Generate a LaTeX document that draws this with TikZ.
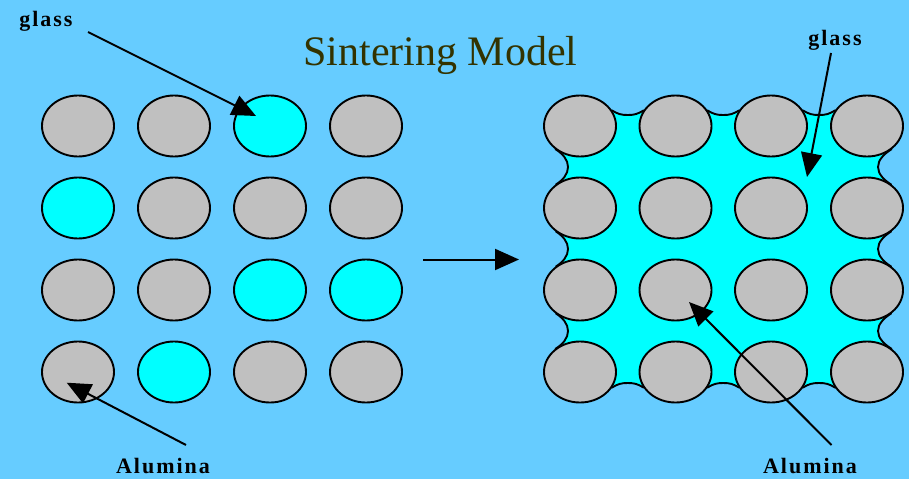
\documentclass[tikz,border=0pt]{standalone}
\usepackage{fontspec}
\setmainfont{Liberation Serif}
\newfontfamily\lblfont[LetterSpace=9]{Liberation Serif}
\usetikzlibrary{shapes.geometric,arrows.meta}
\definecolor{bgblue}{HTML}{66CCFF}
\definecolor{glasscyan}{HTML}{00FFFF}
\definecolor{alugray}{HTML}{C0C0C0}
\definecolor{titlecol}{HTML}{333300}
\begin{document}
\begin{tikzpicture}[x=1pt,y=-1pt,
  grain/.style={ellipse, draw=black, line width=1.9pt, minimum width=72pt, minimum height=61pt, inner sep=0pt},
  alu/.style={grain, fill=alugray},
  gla/.style={grain, fill=glasscyan},
  lbl/.style={font=\lblfont\bfseries\fontsize{22}{22}\selectfont, anchor=base, inner sep=0pt},
  arr/.style={line width=2pt, -{Triangle[length=24pt,width=21pt]}}]
\fill[bgblue] (0,0) rectangle (909,479);
\useasboundingbox (0,0) rectangle (909,479);

% title and labels
\node[anchor=base, inner sep=0pt, text=titlecol, font=\fontsize{42}{42}\selectfont] (title) at (440.5,65) {Sintering Model};
\node[lbl] (glassL) at (46,26.5) {glass};
\node[lbl] (aluL) at (163,473.5) {Alumina};
\node[lbl] (glassR) at (835,45) {glass};
\node[lbl] (aluR) at (810,473.5) {Alumina};

% left grid (before sintering)
\node[alu] (L11) at (78,126) {};
\node[alu] (L12) at (174,126) {};
\node[gla] (L13) at (270,126) {};
\node[alu] (L14) at (366,126) {};
\node[gla] (L21) at (78,208) {};
\node[alu] (L22) at (174,208) {};
\node[alu] (L23) at (270,208) {};
\node[alu] (L24) at (366,208) {};
\node[alu] (L31) at (78,290) {};
\node[alu] (L32) at (174,290) {};
\node[gla] (L33) at (270,290) {};
\node[gla] (L34) at (366,290) {};
\node[alu] (L41) at (78,372) {};
\node[gla] (L42) at (174,372) {};
\node[alu] (L43) at (270,372) {};
\node[alu] (L44) at (366,372) {};

% glass matrix (after sintering)
\draw[fill=glasscyan, line width=1.9pt]
  (612,110.5) .. controls (618,114) and (621,115) .. (627.75,115) .. controls (634.5,115) and (637.5,114) .. (643.5,110.5)
  -- (707.5,110.5) .. controls (713.5,114) and (716.5,115) .. (723.25,115) .. controls (730,115) and (733,114) .. (739,110.5)
  -- (803,110.5) .. controls (809,114) and (812,115) .. (819,115) .. controls (826,115) and (829,114) .. (835,110.5)
  -- (890.8,149.7) .. controls (884,154) and (878,160) .. (878,167) .. controls (878,174) and (884,180) .. (890.8,184.3)
  -- (890.8,231.7) .. controls (884,236) and (878,242) .. (878,249) .. controls (878,256) and (884,262) .. (890.8,266.3)
  -- (890.8,313.7) .. controls (884,318) and (878,324) .. (878,331) .. controls (878,338) and (884,344) .. (890.8,348.3)
  -- (835,387.5) .. controls (829,384) and (826,383) .. (819,383) .. controls (812,383) and (809,384) .. (803,387.5)
  -- (739,387.5) .. controls (733,384) and (730,383) .. (723.25,383) .. controls (716.5,383) and (713.5,384) .. (707.5,387.5)
  -- (643.5,387.5) .. controls (637.5,384) and (634.5,383) .. (627.75,383) .. controls (621,383) and (618,384) .. (612,387.5)
  -- (556.2,348.3) .. controls (563,344) and (568,338) .. (568,331) .. controls (568,324) and (563,318) .. (556.2,313.7)
  -- (556.2,266.3) .. controls (563,262) and (568,256) .. (568,249) .. controls (568,242) and (563,236) .. (556.2,231.7)
  -- (556.2,184.3) .. controls (563,180) and (568,174) .. (568,167) .. controls (568,160) and (563,154) .. (556.2,149.7)
  -- cycle;

% right grid
\foreach \c/\x in {1/580,2/675.5,3/771,4/867}
  \foreach \r/\y in {1/126,2/208,3/290,4/372}
    \node[alu] (R\r\c) at (\x,\y) {};

% arrows
\coordinate (gLs) at (88,32);
\coordinate (gLt) at (256,116);
\coordinate (aLs) at (186,445);
\coordinate (aLt) at (66.7,382.7);
\coordinate (gRs) at (831,53);
\coordinate (gRt) at (807,177);
\coordinate (aRs) at (831.5,445);
\coordinate (aRt) at (689,302);
\coordinate (mS) at (423,259.5);
\coordinate (mT) at (519,259.5);
\draw[arr] (gLs) -- (gLt);
\draw[arr] (aLs) -- (aLt);
\draw[arr] (gRs) -- (gRt);
\draw[arr] (aRs) -- (aRt);
\draw[arr] (mS) -- (mT);
\end{tikzpicture}
\end{document}
